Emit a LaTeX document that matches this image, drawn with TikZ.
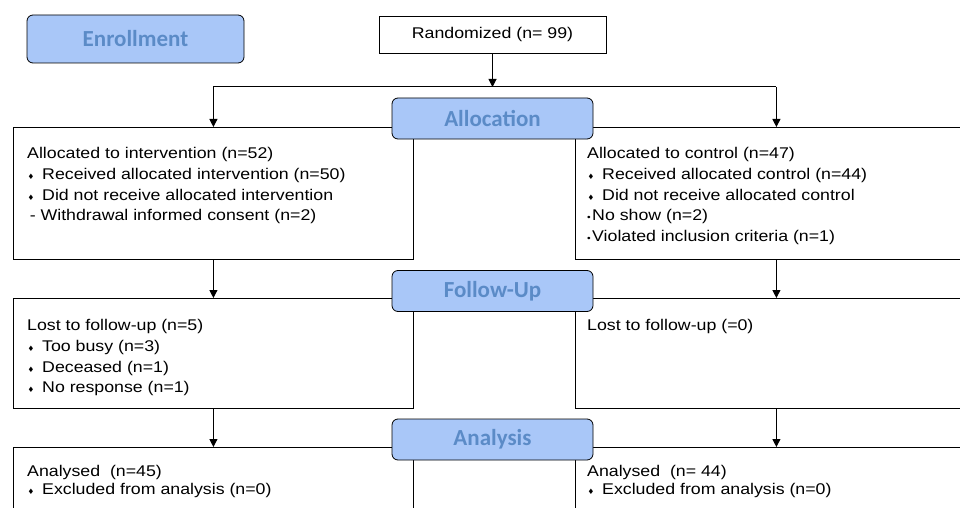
\documentclass[tikz,border=0pt]{standalone}
\usepackage{fontspec}
\setmainfont[FakeStretch=1.145]{Liberation Sans}
\newfontfamily\headfont{Carlito}
\newfontfamily\symfont{DejaVu Sans}
\usetikzlibrary{arrows.meta, positioning, calc}
\definecolor{phasefill}{HTML}{A9C7F8}
\definecolor{phasetext}{HTML}{5B8BC7}
\newcommand{\dia}{\makebox[15pt][l]{\hspace{0.5pt}{\symfont\fontsize{7.5}{7.5}\selectfont ♦}}}
\newcommand{\dotb}{\makebox[5pt][l]{{\fontsize{9}{9}\selectfont •}}}

\begin{document}
\begin{tikzpicture}[
  x=1pt, y=-1pt,
  phase/.style={draw, rounded corners=6pt, fill=phasefill, minimum width=201pt, minimum height=41pt, inner sep=0pt, text=phasetext, font=\headfont\bfseries\fontsize{23}{23}\selectfont, line width=0.8pt},
  box/.style={draw, anchor=north west, inner sep=0pt, line width=0.8pt},
  info/.style={anchor=north west, inner sep=0pt, align=left, font=\fontsize{15.5}{20.8}\selectfont},
  arrow/.style={-{Triangle[length=8pt,width=8pt]}, line width=1pt},
]
  \clip (0,0) rectangle (960,508);
  \useasboundingbox (0,0) rectangle (960,508);

  % stage boxes
  \node[box, minimum width=400pt, minimum height=132pt] (allocL) at (13,127) {};
  \node[box, minimum width=402pt, minimum height=132pt] (allocR) at (575,127) {};
  \node[box, minimum width=400pt, minimum height=110pt] (followL) at (13,298) {};
  \node[box, minimum width=402pt, minimum height=110pt] (followR) at (575,298) {};
  \node[box, minimum width=400pt, minimum height=80pt] (anaL) at (13,447) {};
  \node[box, minimum width=402pt, minimum height=80pt] (anaR) at (575,447) {};

  % box texts
  \node[info, below right=20pt and 14pt of allocL.north west] (allocLtxt) {Allocated to intervention (n=52)\\
    \dia Received allocated intervention (n=50)\\
    \dia Did not receive allocated intervention\\
    \,- Withdrawal informed consent (n=2)};
  \node[info, below right=20pt and 12pt of allocR.north west] (allocRtxt) {Allocated to control (n=47)\\
    \dia Received allocated control (n=44)\\
    \dia Did not receive allocated control\\
    \dotb No show (n=2)\\
    \dotb Violated inclusion criteria (n=1)};
  \node[info, below right=21pt and 14pt of followL.north west] (followLtxt) {Lost to follow-up (n=5)\\
    \dia Too busy (n=3)\\
    \dia Deceased (n=1)\\
    \dia No response (n=1)};
  \node[info, below right=21pt and 12pt of followR.north west] (followRtxt) {Lost to follow-up (=0)};
  \node[info, below right=18pt and 14pt of anaL.north west, font=\fontsize{15.5}{18.5}\selectfont] (anaLtxt) {Analysed\ \ (n=45)\\
    \dia Excluded from analysis (n=0)};
  \node[info, below right=18pt and 12pt of anaR.north west, font=\fontsize{15.5}{18.5}\selectfont] (anaRtxt) {Analysed\ \ (n= 44)\\
    \dia Excluded from analysis (n=0)};

  % randomisation
  \node[draw, line width=0.8pt, minimum width=227pt, minimum height=37pt, inner sep=0pt, font=\fontsize{15.5}{15.5}\selectfont] (rand) at (492.5,34.5) {Randomized (n= 99)};
  \coordinate (split) at (492.5,87);
  \coordinate (splitL) at (split -| allocL.north);
  \coordinate (splitR) at (split -| allocR.north);

  % arrows
  \draw[arrow] (rand) -- (split);
  \draw[line width=1pt] (splitL) -- (splitR);
  \draw[arrow] (splitL) -- (allocL.north);
  \draw[arrow] (splitR) -- (allocR.north);
  \draw[arrow] (allocL.south) -- (followL.north);
  \draw[arrow] (allocR.south) -- (followR.north);
  \draw[arrow] (followL.south) -- (anaL.north);
  \draw[arrow] (followR.south) -- (anaR.north);

  % phase labels
  \node[phase, minimum width=217pt, minimum height=48pt] (enroll) at (135.5,39) {Enrollment};
  \node[phase] (alloc) at (492.5,118.5) {Allocation};
  \node[phase] (follow) at (492.5,291) {Follow-Up};
  \node[phase] (ana) at (492.5,439.5) {Analysis};
\end{tikzpicture}
\end{document}
